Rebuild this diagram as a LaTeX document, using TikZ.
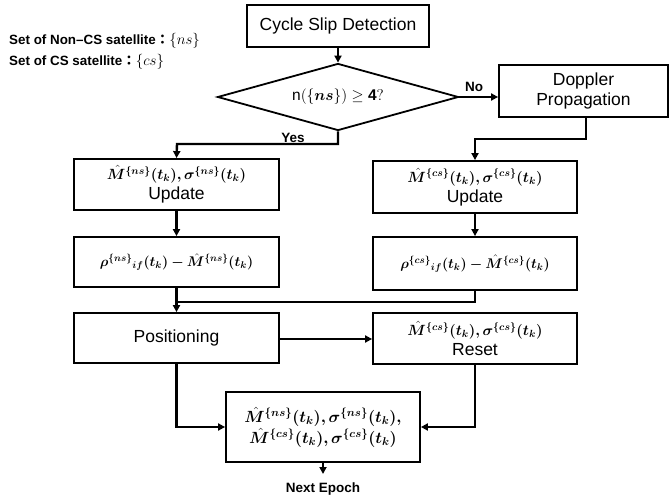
\RequirePackage{fix-cm}
\documentclass[tikz,border=0pt]{standalone}
\usepackage{amsmath}
\usepackage{bm}
\usepackage{fontspec}
\setmainfont{Liberation Sans}
\newfontfamily\cjk{Noto Sans CJK KR}
\usetikzlibrary{shapes.geometric,arrows.meta}
\newcommand\mth[1]{{\fontsize{14.8}{18}\selectfont$\bm{#1}$}}
\newcommand\mthr[1]{{\fontsize{14}{17}\selectfont$\bm{#1}$}}
\newcommand\mthb[1]{{\fontsize{16.2}{19}\selectfont$\bm{#1}$}}
\tikzset{
  box/.style={draw, line width=1.8pt, inner sep=0pt, align=center,
    font=\fontsize{17.5}{20}\selectfont},
  conn/.style={line width=2.4pt},
  arr/.style={conn, -{Triangle[length=7pt,width=7pt]}},
  lbl/.style={font=\bfseries\fontsize{13.5}{15}\selectfont, inner sep=0pt},
  note/.style={font=\bfseries\fontsize{13.4}{15}\selectfont, inner sep=0pt, anchor=west},
}
\begin{document}
\begin{tikzpicture}[x=1pt,y=-1pt]
\useasboundingbox (0,0) rectangle (669,502);
\node[note] (n1) at (9,41) {Set of Non–CS satellite{\cjk ：}{\fontsize{15}{17}\selectfont$\{ns\}$}};
\node[note] (n2) at (9,62) {Set of CS satellite{\cjk ：}{\fontsize{15}{17}\selectfont$\{cs\}$}};
\node[box, minimum width=182pt, minimum height=42pt] (csd) at (338,26) {Cycle Slip Detection};
\node[draw, line width=1.8pt, shape=diamond, shape aspect=3.6, inner sep=0pt,
  minimum width=241pt, minimum height=67pt,
  font=\fontsize{15.5}{18}\selectfont] (dia) at (338,97) {$\mathrm{n}(\{\bm{ns}\})\geq\mathbf{4}?$};
\node[box, minimum width=169pt, minimum height=52pt] (dop) at (583.5,91) {Doppler\\Propagation};
\node[box, minimum width=205pt, minimum height=51pt] (u1) at (176.5,184.5)
  {\mth{\hat{M}^{\{ns\}}(t_k),\sigma^{\{ns\}}(t_k)}\\Update};
\node[box, minimum width=204pt, minimum height=52pt] (u2) at (475,187)
  {\mth{\hat{M}^{\{cs\}}(t_k),\sigma^{\{cs\}}(t_k)}\\Update};
\node[box, minimum width=205pt, minimum height=50pt] (r1) at (176.5,262)
  {\mthr{\rho^{\{ns\}}{}_{if}(t_k)-\hat{M}^{\{ns\}}(t_k)}};
\node[box, minimum width=204pt, minimum height=53pt] (r2) at (475,263.5)
  {\mthr{\rho^{\{cs\}}{}_{if}(t_k)-\hat{M}^{\{cs\}}(t_k)}};
\node[box, minimum width=205pt, minimum height=50pt] (pos) at (176.5,338) {Positioning};
\node[box, minimum width=204pt, minimum height=51pt] (rst) at (475,338.5)
  {\mth{\hat{M}^{\{cs\}}(t_k),\sigma^{\{cs\}}(t_k)}\\Reset};
\node[box, minimum width=194pt, minimum height=70pt] (fin) at (323,427)
  {\mthb{\hat{M}^{\{ns\}}(t_k),\sigma^{\{ns\}}(t_k),}\\[1pt]\mthb{\hat{M}^{\{cs\}}(t_k),\sigma^{\{cs\}}(t_k)}};
\node[lbl] (nxt) at (323,489) {Next Epoch};
\coordinate (nxtend) at (323,474);
\node[lbl] (yes) at (293,138) {Yes};
\node[lbl] (no) at (474,87) {No};
% connectors
\draw[arr] (csd.south) -- (dia.north);
\draw[arr] (dia.east) -- (dia.east -| dop.west);
\draw[arr] (dia.south) |- (177,144) -- (u1.north);
\draw[arr] ([xshift=2.5pt]dop.south) |- (475,139) -- (u2.north);
\draw[arr] (u1) -- (r1);
\draw[arr] (u2) -- (r2);
\draw[arr] (r1) -- (pos);
\draw[conn] (r2.south) |- (177,302);
\draw[arr] (pos.east |- 0,339) -- (rst.west |- 0,339);
\draw[arr] (pos.south) |- (fin.west);
\draw[arr] (rst.south) |- (fin.east);
\draw[arr] (fin.south) -- (nxtend);
\end{tikzpicture}
\end{document}
